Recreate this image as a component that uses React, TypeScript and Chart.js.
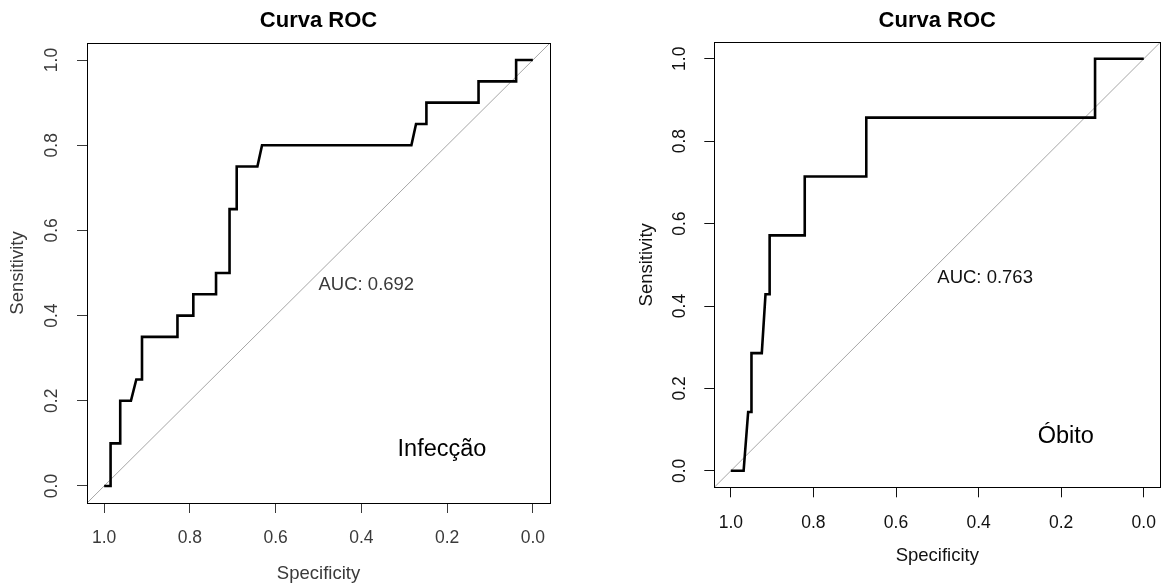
import { useEffect, useRef } from "react";
import { Chart, registerables } from "chart.js";

Chart.register(...registerables);

// Shared axis settings (both panels use the same 0–1 scale with a 4% margin)
const tickValues = [0, 0.2, 0.4, 0.6, 0.8, 1.0];
const axisMin = -0.04;
const axisMax = 1.04;

const chartTitle = "Curva ROC";
const xAxisTitle = "Specificity";
const yAxisTitle = "Sensitivity";

// ROC curve for "Infecção": specificity (x) and sensitivity (y) at each corner of the curve
const infeccaoSpecificity = [
  1.0, 0.985, 0.985, 0.9625, 0.9625, 0.9375, 0.925, 0.9117, 0.9117, 0.829, 0.829, 0.792, 0.792,
  0.739, 0.739, 0.7075, 0.7075, 0.6908, 0.6908, 0.6425, 0.6317, 0.2833, 0.2725, 0.2483, 0.2483,
  0.1267, 0.1267, 0.039, 0.039, 0.0,
];
const infeccaoSensitivity = [
  0.0, 0.0, 0.1, 0.1, 0.2, 0.2, 0.25, 0.25, 0.35, 0.35, 0.4, 0.4, 0.45,
  0.45, 0.5, 0.5, 0.65, 0.65, 0.75, 0.75, 0.8, 0.8, 0.85, 0.85, 0.9,
  0.9, 0.95, 0.95, 1.0, 1.0,
];
const infeccaoAuc = "AUC: 0.692";
const infeccaoLabel = "Infecção";

// ROC curve for "Óbito"
const obitoSpecificity = [
  1.0, 0.969, 0.958, 0.95, 0.95, 0.925, 0.916, 0.906, 0.906, 0.821, 0.821, 0.672, 0.672, 0.118,
  0.118, 0.0,
];
const obitoSensitivity = [
  0.0, 0.0, 0.1429, 0.1429, 0.2857, 0.2857, 0.4286, 0.4286, 0.5714, 0.5714, 0.7143, 0.7143,
  0.8571, 0.8571, 1.0, 1.0,
];
const obitoAuc = "AUC: 0.763";
const obitoLabel = "Óbito";

const FONT = "'Liberation Sans', Arial, Helvetica, sans-serif";

type PanelLayout = {
  left: number;
  yAxisWidth: number;
  xAxisHeight: number;
  padRight: number;
  titlePadTop: number;
  titlePadBottom: number;
  xTickPad: number;
  yTickPad: number;
  xTitlePad: number;
  yTitlePad: number;
  textColor: string;
  aucAt: [number, number];
  labelAt: [number, number];
};

type PanelProps = {
  spec: number[];
  sens: number[];
  auc: string;
  label: string;
  layout: PanelLayout;
};

const boxPlugin = {
  id: "plotBox",
  afterDraw(chart: any) {
    const { ctx, chartArea } = chart;
    ctx.save();
    ctx.strokeStyle = "#000";
    ctx.lineWidth = 1;
    const l = Math.round(chartArea.left) + 0.5;
    const t = Math.round(chartArea.top) + 0.5;
    const r = Math.round(chartArea.right) + 0.5;
    const b = Math.round(chartArea.bottom) + 0.5;
    ctx.strokeRect(l, t, r - l, b - t);
    ctx.restore();
  },
};

const textPlugin = {
  id: "rocText",
  afterDatasetsDraw(chart: any, _args: any, opts: any) {
    const { ctx, scales } = chart;
    const x = scales.x;
    const y = scales.y;
    ctx.save();
    ctx.textBaseline = "alphabetic";
    ctx.fillStyle = opts.color;
    ctx.font = `18.5px ${FONT}`;
    ctx.textAlign = "left";
    ctx.fillText(opts.auc, x.getPixelForValue(opts.aucAt[0]), y.getPixelForValue(opts.aucAt[1]));
    ctx.fillStyle = "#000";
    ctx.font = `23.5px ${FONT}`;
    ctx.textAlign = "center";
    ctx.fillText(opts.label, x.getPixelForValue(opts.labelAt[0]), y.getPixelForValue(opts.labelAt[1]));
    ctx.restore();
  },
};

function RocPanel({ spec, sens, auc, label, layout }: PanelProps) {
  const ref = useRef<HTMLCanvasElement>(null);

  useEffect(() => {
    if (!ref.current) return;
    const curve = spec.map((s, i) => ({ x: s, y: sens[i] }));
    const chance = [
      { x: axisMax, y: 1 - axisMax },
      { x: axisMin, y: 1 - axisMin },
    ];
    const setTicks = (scale: any) => {
      scale.ticks = tickValues.map((v) => ({ value: v }));
    };
    const c = layout.textColor;

    const chart = new Chart(ref.current, {
      type: "line",
      data: {
        datasets: [
          {
            data: chance,
            borderColor: "#a6a6a6",
            borderWidth: 1,
            pointRadius: 0,
            tension: 0,
            order: 2,
          },
          {
            data: curve,
            borderColor: "#000",
            borderWidth: 2.6,
            pointRadius: 0,
            tension: 0,
            borderJoinStyle: "miter",
            order: 1,
          },
        ],
      },
      options: {
        animation: false,
        responsive: false,
        events: [],
        layout: { padding: { left: 0, right: layout.padRight, top: 0, bottom: 0 } },
        plugins: {
          legend: { display: false },
          tooltip: { enabled: false },
          title: {
            display: true,
            text: chartTitle,
            fullSize: false,
            color: "#000",
            font: { family: FONT, size: 22, weight: "bold", lineHeight: 1.2 },
            padding: { top: layout.titlePadTop, bottom: layout.titlePadBottom },
          },
          rocText: { auc, label, aucAt: layout.aucAt, labelAt: layout.labelAt, color: c },
        } as any,
        scales: {
          x: {
            type: "linear",
            reverse: true,
            min: axisMin,
            max: axisMax,
            afterBuildTicks: setTicks,
            afterFit: (scale: any) => {
              scale.height = layout.xAxisHeight;
            },
            border: { display: false },
            grid: {
              drawOnChartArea: false,
              drawTicks: true,
              tickLength: 10,
              color: c,
              lineWidth: 1,
            },
            ticks: {
              color: c,
              padding: layout.xTickPad,
              maxRotation: 0,
              autoSkip: false,
              font: { family: FONT, size: 17.5 },
              callback: (v: any) => Number(v).toFixed(1),
            },
            title: {
              display: true,
              text: xAxisTitle,
              color: c,
              font: { family: FONT, size: 18.5, lineHeight: 1 },
              padding: { top: 0, bottom: layout.xTitlePad },
            },
          },
          y: {
            type: "linear",
            min: axisMin,
            max: axisMax,
            afterBuildTicks: setTicks,
            afterFit: (scale: any) => {
              scale.width = layout.yAxisWidth;
            },
            border: { display: false },
            grid: {
              drawOnChartArea: false,
              drawTicks: true,
              tickLength: 10,
              color: c,
              lineWidth: 1,
            },
            ticks: {
              color: c,
              padding: layout.yTickPad,
              minRotation: 90,
              maxRotation: 90,
              crossAlign: "center",
              autoSkip: false,
              font: { family: FONT, size: 17.5 },
              callback: (v: any) => Number(v).toFixed(1),
            },
            title: {
              display: true,
              text: yAxisTitle,
              color: c,
              font: { family: FONT, size: 18.5, lineHeight: 1 },
              padding: { top: layout.yTitlePad, bottom: 0 },
            },
          },
        },
      },
      plugins: [boxPlugin, textPlugin],
    });
    return () => chart.destroy();
  }, [spec, sens, auc, label, layout]);

  return (
    <canvas
      ref={ref}
      width={581}
      height={584}
      style={{ position: "absolute", left: layout.left, top: 0, width: 581, height: 584 }}
    />
  );
}

const leftLayout: PanelLayout = {
  left: 0,
  yAxisWidth: 87,
  xAxisHeight: 81,
  padRight: 31,
  titlePadTop: 7.6,
  titlePadBottom: 9,
  xTickPad: 14.8,
  yTickPad: 12.3,
  xTitlePad: 0.75,
  yTitlePad: 8.25,
  textColor: "#3a3a3a",
  aucAt: [0.5, 0.46],
  labelAt: [0.212, 0.07],
};

const rightLayout: PanelLayout = {
  left: 581,
  yAxisWidth: 133.3,
  xAxisHeight: 96.7,
  padRight: 1.7,
  titlePadTop: 7.6,
  titlePadBottom: 8.3,
  xTickPad: 15.5,
  yTickPad: 11.7,
  xTitlePad: 18.75,
  yTitlePad: 56.45,
  textColor: "#111",
  aucAt: [0.5, 0.457],
  labelAt: [0.189, 0.067],
};

export default function App() {
  return (
    <div
      style={{
        position: "absolute",
        left: 0,
        top: 0,
        width: 1162,
        height: 584,
        background: "#fff",
        overflow: "hidden",
      }}
    >
      <RocPanel
        spec={infeccaoSpecificity}
        sens={infeccaoSensitivity}
        auc={infeccaoAuc}
        label={infeccaoLabel}
        layout={leftLayout}
      />
      <RocPanel
        spec={obitoSpecificity}
        sens={obitoSensitivity}
        auc={obitoAuc}
        label={obitoLabel}
        layout={rightLayout}
      />
    </div>
  );
}
